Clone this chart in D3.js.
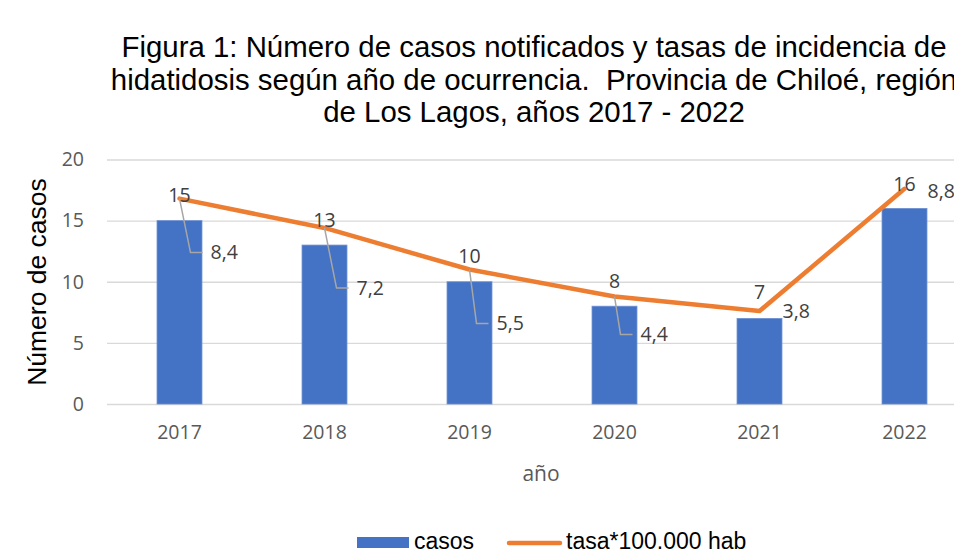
<!DOCTYPE html>
<html>
<head>
<meta charset="utf-8">
<script src="https://cdn.jsdelivr.net/npm/d3@7"></script>
<style>
    html, body { margin: 0; padding: 0; background: #fff; overflow: hidden; }
    svg { display: block; }
</style>
</head>
<body>
<div id="chart"></div>
<script>
// datos
var years = ['2017', '2018', '2019', '2020', '2021', '2022'];
var casos = [15, 13, 10, 8, 7, 16];
var tasa = [8.4, 7.2, 5.5, 4.4, 3.8, 8.8];
var yTicks = [0, 5, 10, 15, 20];
var titleLines = [
    'Figura 1: Número de casos notificados y tasas de incidencia de',
    'hidatidosis según año de ocurrencia.  Provincia de Chiloé, región',
    'de Los Lagos, años 2017 - 2022'
];

// posiciones de etiquetas (arrastradas a mano en el original)
var barLabelDy = [-3, -8, -13, -15, -19, -5];
var tasaLabelOffset = [[31, 54, true], [32, 60, true], [27, 54, true], [26, 38, true], [23, 0, false], [23, 2, false]];

var width = 954, height = 554;
var plot = {left: 107, right: 977, top: 159.5, bottom: 404};

var svg = d3.select('#chart')
    .append('svg')
    .attr('width', width)
    .attr('height', height);

// titulo
svg.append('g')
    .selectAll('text')
    .data(titleLines)
    .enter()
    .append('text')
    .attr('x', 534)
    .attr('y', function (d, i) { return 57 + i * 32.5; })
    .attr('text-anchor', 'middle')
    .attr('font-family', '"Liberation Sans", Arial, sans-serif')
    .attr('font-size', 29.4)
    .attr('fill', '#000')
    .style('white-space', 'pre')
    .text(function (d) { return d; });

//escalas
var x = d3.scaleBand()
    .domain(years)
    .range([plot.left, plot.right])
    .paddingInner(0.69)
    .paddingOuter(0.345);

var y = d3.scaleLinear().domain([0, 20]).range([plot.bottom, plot.top]);
var y2 = d3.scaleLinear().domain([0, 10]).range([plot.bottom, plot.top]);

// lineas de division
var yAxis = d3.axisLeft(y)
    .tickValues(yTicks)
    .tickSize(-(plot.right - plot.left))
    .tickPadding(23);

var gy = svg.append('g')
    .attr('transform', 'translate(' + plot.left + ',0)')
    .call(yAxis);
gy.select('.domain').remove();
gy.selectAll('line').attr('stroke', '#d9d9d9').attr('stroke-width', 1.3);
gy.selectAll('text')
    .attr('fill', '#595959')
    .attr('font-family', '"Open Sans", sans-serif')
    .attr('font-size', 19.5);

var xAxis = d3.axisBottom(x).tickSize(0).tickPadding(21);
var gx = svg.append('g')
    .attr('transform', 'translate(0,' + plot.bottom + ')')
    .call(xAxis);
gx.select('.domain').remove();
gx.selectAll('text')
    .attr('fill', '#595959')
    .attr('font-family', '"Open Sans", sans-serif')
    .attr('font-size', 19.5);

// barras
svg.append('g')
    .selectAll('rect')
    .data(casos)
    .enter()
    .append('rect')
    .attr('x', function (d, i) { return x(years[i]); })
    .attr('y', function (d) { return y(d); })
    .attr('width', x.bandwidth())
    .attr('height', function (d) { return y(0) - y(d); })
    .attr('fill', '#4472c4')
    .attr('stroke', '#6d90d2')
    .attr('stroke-width', 0.8);

// linea de tasa
var line = d3.line()
    .x(function (d, i) { return x(years[i]) + x.bandwidth() / 2; })
    .y(function (d) { return y2(d); });

svg.append('path')
    .datum(tasa)
    .attr('d', line)
    .attr('fill', 'none')
    .attr('stroke', '#ed7d31')
    .attr('stroke-width', 4.5)
    .attr('stroke-linejoin', 'round')
    .attr('stroke-linecap', 'round');

// lineas guia de etiquetas
var px = function (i) { return x(years[i]) + x.bandwidth() / 2; };
svg.append('g')
    .selectAll('path')
    .data(d3.range(tasa.length).filter(function (i) { return tasaLabelOffset[i][2]; }))
    .enter()
    .append('path')
    .attr('d', function (i) {
        var o = tasaLabelOffset[i];
        var x0 = px(i), y0 = y2(tasa[i]);
        var lx = x0 + o[0], ly = y0 + o[1];
        return 'M' + x0 + ',' + y0 + 'L' + (lx - 20) + ',' + ly + 'L' + (lx - 8) + ',' + ly;
    })
    .attr('fill', 'none')
    .attr('stroke', '#a6a6a6')
    .attr('stroke-width', 1.5);

// etiquetas de casos
svg.append('g')
    .selectAll('text')
    .data(casos)
    .enter()
    .append('text')
    .attr('x', function (d, i) { return px(i); })
    .attr('y', function (d, i) { return y2(tasa[i]) + barLabelDy[i]; })
    .attr('dy', '0.35em')
    .attr('text-anchor', 'middle')
    .attr('fill', '#404040')
    .attr('font-family', '"Open Sans", sans-serif')
    .attr('font-size', 19.5)
    .text(function (d) { return d; });

// etiquetas de tasa
svg.append('g')
    .selectAll('text')
    .data(tasa)
    .enter()
    .append('text')
    .attr('x', function (d, i) { return px(i) + tasaLabelOffset[i][0]; })
    .attr('y', function (d, i) { return y2(d) + tasaLabelOffset[i][1]; })
    .attr('dy', '0.35em')
    .attr('fill', '#404040')
    .attr('font-family', '"Open Sans", sans-serif')
    .attr('font-size', 19.5)
    .text(function (d) { return d3.format('.1f')(d).replace('.', ','); });

// titulos de ejes
svg.append('text')
    .attr('transform', 'translate(46,282) rotate(-90)')
    .attr('text-anchor', 'middle')
    .attr('font-family', '"Liberation Sans", Arial, sans-serif')
    .attr('font-size', 26.5)
    .attr('fill', '#000')
    .text('Número de casos');

svg.append('text')
    .attr('x', 541)
    .attr('y', 474)
    .attr('dy', '0.35em')
    .attr('text-anchor', 'middle')
    .attr('font-family', '"Open Sans", sans-serif')
    .attr('font-size', 21)
    .attr('fill', '#595959')
    .text('año');

// leyenda
var legend = svg.append('g');
legend.append('rect')
    .attr('x', 357).attr('y', 537)
    .attr('width', 52).attr('height', 11)
    .attr('fill', '#4472c4');
legend.append('text')
    .attr('x', 414).attr('y', 549)
    .attr('font-family', '"Liberation Sans", Arial, sans-serif')
    .attr('font-size', 23)
    .attr('fill', '#000')
    .text('casos');
legend.append('line')
    .attr('x1', 509).attr('x2', 560)
    .attr('y1', 543).attr('y2', 543)
    .attr('stroke', '#ed7d31')
    .attr('stroke-width', 4.5)
    .attr('stroke-linecap', 'round');
legend.append('text')
    .attr('x', 566).attr('y', 549)
    .attr('font-family', '"Liberation Sans", Arial, sans-serif')
    .attr('font-size', 23)
    .attr('fill', '#000')
    .text('tasa*100.000 hab');
</script>
</body>
</html>
